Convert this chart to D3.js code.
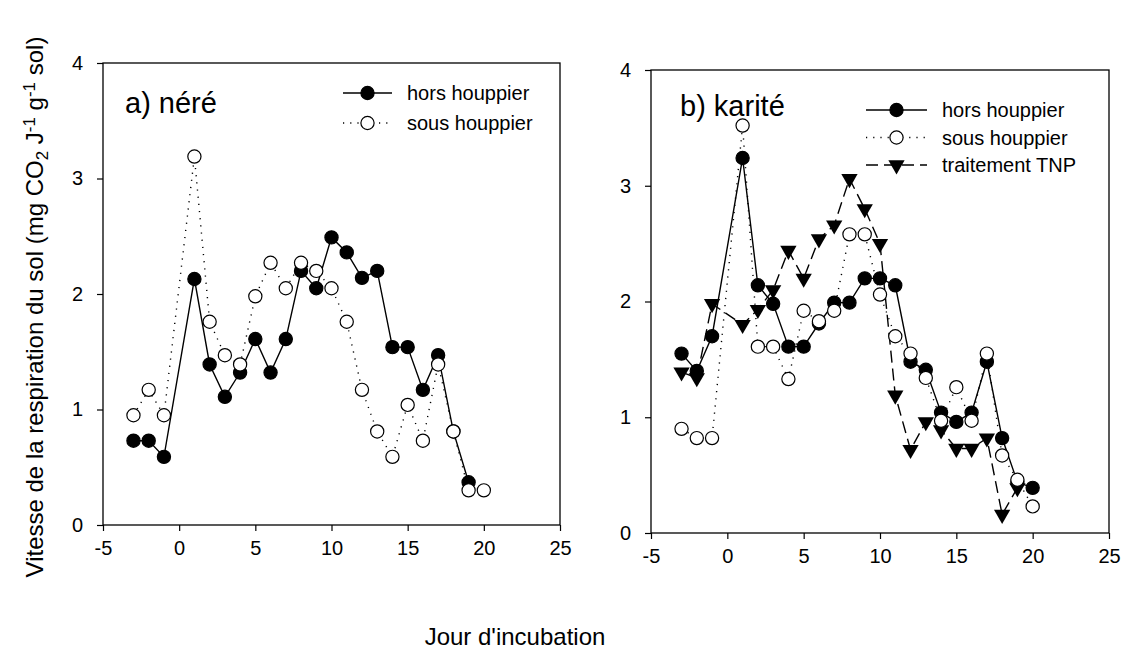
<!DOCTYPE html>
<html>
<head>
<meta charset="utf-8">
<script src="https://cdn.jsdelivr.net/npm/d3@7"></script>
<style>
  body { margin: 0; background: #fff; }
  text { font-family: "Liberation Sans", Arial, sans-serif; fill: #000; }
</style>
</head>
<body>
<svg id="chart" width="1122" height="653"></svg>
<script>
// days of incubation
const daysA = [-3, -2, -1, 1, 2, 3, 4, 5, 6, 7, 8, 9, 10, 11, 12, 13, 14, 15, 16, 17, 18, 19, 20];
const daysB = [-3, -2, -1, 1, 2, 3, 4, 5, 6, 7, 8, 9, 10, 11, 12, 13, 14, 15, 16, 17, 18, 19, 20];

// a) néré
const nereHors = [0.73, 0.73, 0.59, 2.13, 1.39, 1.11, 1.32, 1.61, 1.32, 1.61, 2.20, 2.05, 2.49, 2.36, 2.14, 2.20, 1.54, 1.54, 1.17, 1.47, 0.81, 0.37, null];
const nereSous = [0.95, 1.17, 0.95, 3.19, 1.76, 1.47, 1.39, 1.98, 2.27, 2.05, 2.27, 2.20, 2.05, 1.76, 1.17, 0.81, 0.59, 1.04, 0.73, 1.39, 0.81, 0.30, 0.30];

// b) karité
const kariteHors = [1.55, 1.40, 1.70, 3.24, 2.14, 1.98, 1.61, 1.61, 1.81, 1.99, 1.99, 2.20, 2.20, 2.14, 1.48, 1.41, 1.04, 0.96, 1.04, 1.48, 0.82, 0.44, 0.39];
const kariteSous = [0.90, 0.82, 0.82, 3.52, 1.61, 1.61, 1.33, 1.92, 1.83, 1.92, 2.58, 2.58, 2.06, 1.70, 1.55, 1.34, 0.97, 1.26, 0.97, 1.55, 0.67, 0.46, 0.23];
const kariteTnp  = [1.39, 1.34, 1.98, 1.80, 1.93, 2.10, 2.44, 2.20, 2.54, 2.66, 3.06, 2.80, 2.50, 1.19, 0.72, 0.96, 0.89, 0.73, 0.73, 0.82, 0.16, 0.39, null];

const xTicks = [-5, 0, 5, 10, 15, 20, 25];
const yTicks = [0, 1, 2, 3, 4];

const svg = d3.select('#chart');

const dashes = { hors: null, sous: '1.2,6', tnp: '12,6' };

function drawMarkers(g, pts, kind, x, y) {
  if (kind === 'tnp') {
    g.selectAll(null).data(pts).enter().append('path')
      .attr('d', d3.symbol().type(d3.symbolTriangle).size(115))
      .attr('transform', o => `translate(${x(o.d)},${y(o.v)}) rotate(180)`)
      .attr('fill', '#000');
  } else {
    g.selectAll(null).data(pts).enter().append('circle')
      .attr('cx', o => x(o.d)).attr('cy', o => y(o.v))
      .attr('r', 6.6)
      .attr('fill', kind === 'hors' ? '#000' : '#fff')
      .attr('stroke', '#000').attr('stroke-width', 1.2);
  }
}

function drawPanel(p) {
  const x = d3.scaleLinear().domain([-5, 25]).range([p.left, p.right]);
  const y = d3.scaleLinear().domain([0, 4]).range([p.bottom, p.top]);
  const g = svg.append('g');

  g.append('rect')
    .attr('x', p.left).attr('y', p.top)
    .attr('width', p.right - p.left).attr('height', p.bottom - p.top)
    .attr('fill', 'none').attr('stroke', '#000').attr('stroke-width', 1.3);

  const xAxis = g.append('g')
    .attr('transform', `translate(0,${p.bottom})`)
    .call(d3.axisBottom(x).tickValues(xTicks).tickFormat(d => d).tickSize(6).tickPadding(10));
  const yAxis = g.append('g')
    .attr('transform', `translate(${p.left},0)`)
    .call(d3.axisLeft(y).tickValues(yTicks).tickFormat(d => d).tickSize(6).tickPadding(14));
  [xAxis, yAxis].forEach(a => {
    a.select('.domain').remove();
    a.selectAll('line').attr('stroke', '#000').attr('stroke-width', 1.2);
    a.selectAll('text').style('font-size', '20px');
  });

  const pointsOf = s => s.days.map((d, i) => ({ d, v: s.values[i] })).filter(o => o.v != null);

  p.data.forEach(s => {
    g.append('path')
      .datum(pointsOf(s))
      .attr('fill', 'none')
      .attr('stroke', '#000')
      .attr('stroke-width', 1.4)
      .attr('stroke-dasharray', dashes[s.kind])
      .attr('d', d3.line().x(o => x(o.d)).y(o => y(o.v)));
  });

  // open circles sit on top of the other markers
  ['hors', 'tnp', 'sous'].forEach(k => {
    p.data.filter(s => s.kind === k).forEach(s => drawMarkers(g, pointsOf(s), k, x, y));
  });

  g.append('text')
    .attr('x', p.titleX).attr('y', p.titleY)
    .style('font-size', '29px')
    .text(p.title);

  p.data.forEach((s, i) => {
    const ly = p.legY + i * p.legStep;
    g.append('line')
      .attr('x1', p.legX).attr('x2', p.legX + p.legW)
      .attr('y1', ly).attr('y2', ly)
      .attr('stroke', '#000').attr('stroke-width', 1.4)
      .attr('stroke-dasharray', dashes[s.kind]);
    drawMarkers(g, [{ d: 0, v: 0 }], s.kind, () => p.legX + p.legW / 2, () => ly);
    g.append('text')
      .attr('x', p.legX + p.legW + 15).attr('y', ly + 7)
      .style('font-size', '20px')
      .text(s.label);
  });
}

drawPanel({
  left: 103, right: 560, top: 63, bottom: 525,
  title: 'a) néré', titleX: 125, titleY: 113,
  legX: 343, legY: 93, legW: 49, legStep: 30,
  data: [
    { kind: 'hors', label: 'hors houppier', days: daysA, values: nereHors },
    { kind: 'sous', label: 'sous houppier', days: daysA, values: nereSous }
  ]
});

drawPanel({
  left: 651, right: 1109, top: 70, bottom: 533,
  title: 'b) karité', titleX: 680, titleY: 116,
  legX: 866, legY: 110, legW: 61, legStep: 27.5,
  data: [
    { kind: 'hors', label: 'hors houppier', days: daysB, values: kariteHors },
    { kind: 'sous', label: 'sous houppier', days: daysB, values: kariteSous },
    { kind: 'tnp', label: 'traitement TNP', days: daysB, values: kariteTnp }
  ]
});

svg.append('text')
  .attr('x', 515).attr('y', 645)
  .attr('text-anchor', 'middle')
  .style('font-size', '24px')
  .text("Jour d'incubation");

const yl = svg.append('text')
  .attr('transform', 'translate(43,307) rotate(-90)')
  .attr('text-anchor', 'middle')
  .style('font-size', '24px');
yl.append('tspan').text('Vitesse de la respiration du sol (mg CO');
yl.append('tspan').attr('baseline-shift', '-30%').style('font-size', '17px').text('2');
yl.append('tspan').text(' J');
yl.append('tspan').attr('baseline-shift', '45%').style('font-size', '17px').text('-1');
yl.append('tspan').text(' g');
yl.append('tspan').attr('baseline-shift', '45%').style('font-size', '17px').text('-1');
yl.append('tspan').text(' sol)');
</script>
</body>
</html>
